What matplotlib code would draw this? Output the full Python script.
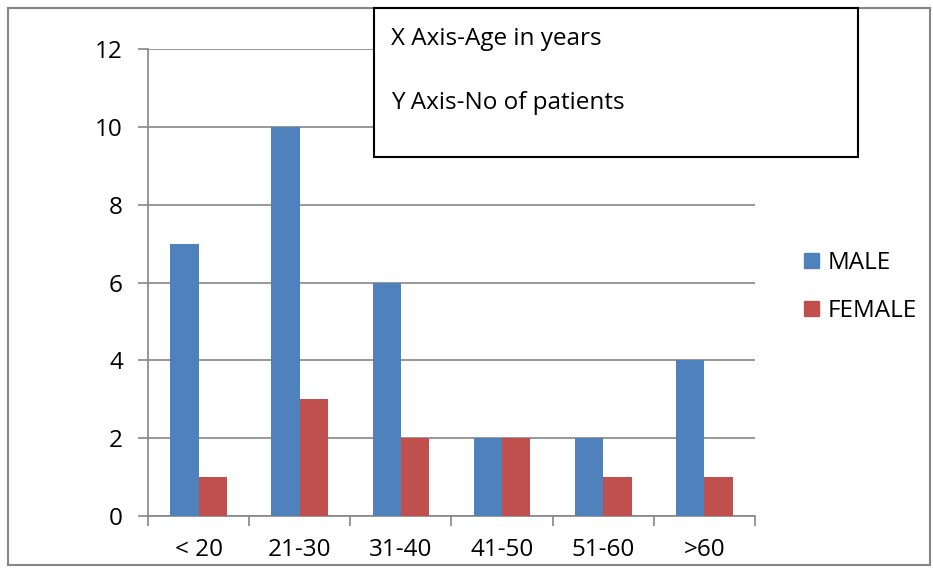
import matplotlib.pyplot as plt
import numpy as np
from matplotlib.patches import Rectangle, Patch

ages = ['< 20', '21-30', '31-40', '41-50', '51-60', '>60']
male = [7, 10, 6, 2, 2, 4]
female = [1, 3, 2, 2, 1, 1]

plt.rcParams['font.family'] = ['Open Sans', 'DejaVu Sans']
W, H = 933, 568
fs = 17.5
fig = plt.figure(figsize=(W / 100, H / 100), dpi=100)

ax = fig.add_axes([148 / W, 52 / H, 607 / W, 467 / H])
x = np.arange(len(ages))
bw = 0.28
ax.bar(x - bw / 2, male, bw, color='#4F81BD', label='MALE', zorder=3)
ax.bar(x + bw / 2, female, bw, color='#C0504D', label='FEMALE', zorder=3)

ax.set_xlim(-0.5, len(ages) - 0.5)
ax.set_ylim(0, 12)
ax.set_yticks(range(0, 13, 2))
ax.yaxis.grid(True, color='#868686', linewidth=1.2, zorder=0)

# category boundaries get tick marks, labels sit at the centres
ax.set_xticks(np.arange(-0.5, len(ages), 1))
ax.set_xticklabels([])
ax.set_xticks(x, minor=True)
ax.set_xticklabels(ages, minor=True)
ax.tick_params(axis='x', which='major', length=7, color='#868686', width=1.2)
ax.tick_params(axis='x', which='minor', length=0, pad=16, labelsize=fs)
ax.tick_params(axis='y', length=7, color='#868686', width=1.2, pad=11, labelsize=fs)

for s in ['top', 'right']:
    ax.spines[s].set_visible(False)
for s in ['left', 'bottom']:
    ax.spines[s].set_color('#868686')
    ax.spines[s].set_linewidth(1.2)

handles = [Patch(color='#4F81BD', label='MALE'), Patch(color='#C0504D', label='FEMALE')]
fig.legend(handles=handles, loc='center left', bbox_to_anchor=(785 / W, 1 - 287 / H),
           frameon=False, fontsize=fs, handlelength=0.6, handleheight=0.6,
           handletextpad=0.35, labelspacing=1.0, borderpad=0.3)

# outer chart border
fig.patches.append(Rectangle((8 / W, 3 / H), 922 / W, 557 / H, transform=fig.transFigure,
                             fill=False, edgecolor='#868686', linewidth=1.5))

# annotation box
fig.patches.append(Rectangle((374 / W, 1 - 157 / H), 484 / W, 149 / H, transform=fig.transFigure,
                             facecolor='white', edgecolor='black', linewidth=1.5, zorder=5))
fig.text(391 / W, 1 - 39 / H, 'X Axis-Age in years', fontsize=fs, va='center', zorder=6)
fig.text(391 / W, 1 - 103 / H, 'Y Axis-No of patients', fontsize=fs, va='center', zorder=6)

fig.savefig('out.png', dpi=100)
